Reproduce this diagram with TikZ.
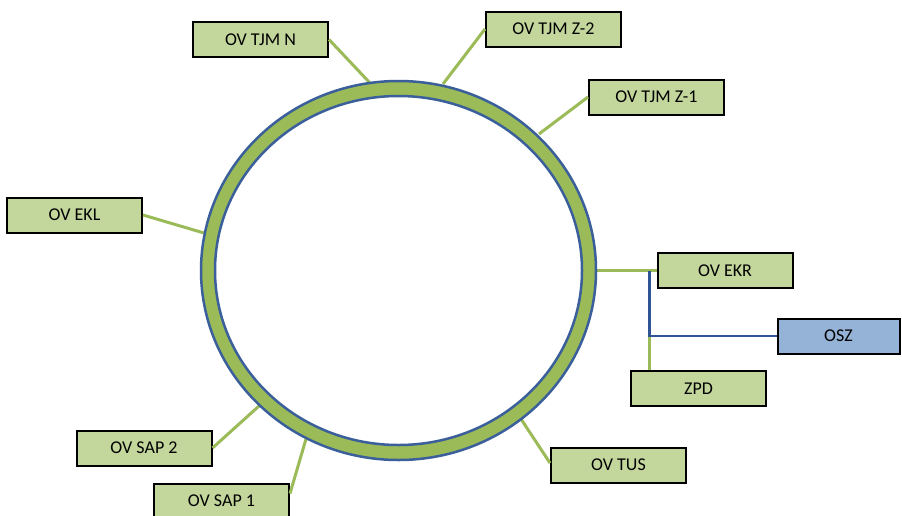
\documentclass[tikz,border=0pt]{standalone}
\usepackage{fontspec}
\setmainfont{Carlito}
\definecolor{ringgreen}{HTML}{9BBB59}
\definecolor{ringblue}{HTML}{3A5F9A}
\definecolor{boxgreen}{HTML}{C3D69B}
\definecolor{boxblue}{HTML}{95B3D7}
\definecolor{linkblue}{HTML}{2F5597}
\begin{document}
\begin{tikzpicture}[x=1pt,y=-1pt,
  box/.style={draw=black, line width=2pt, fill=boxgreen, minimum width=135pt, minimum height=35pt, inner sep=0pt, font=\fontsize{18}{21}\selectfont},
  bluebox/.style={box, fill=boxblue, minimum width=122pt},
  link/.style={draw=ringgreen, line width=3pt},
  bluelink/.style={draw=linkblue, line width=2.5pt}]
\useasboundingbox (0,0) rectangle (902,515);
\clip (0,0) rectangle (902,515);
\fill[white] (0,0) rectangle (902,515);

% boxes
\node[box] (tjmN)  at (260.5,39.5) {OV TJM N};
\node[box] (tjmZ2) at (553.5,29)   {OV TJM Z-2};
\node[box] (tjmZ1) at (656.5,97)   {OV TJM Z-1};
\node[box] (ekl)   at (74.5,215)   {OV EKL};
\node[box] (ekr)   at (725,270.5)  {OV EKR};
\node[bluebox] (osz) at (838.5,336) {OSZ};
\node[box] (zpd)   at (698.5,388.5) {ZPD};
\node[box] (sap2)  at (144,448)    {OV SAP 2};
\node[box] (sap1)  at (221.5,501)  {OV SAP 1};
\node[box] (tus)   at (618.5,465)  {OV TUS};

% ring attachment points
\coordinate (rN)    at (370,83);
\coordinate (rZ2)   at (443,84);
\coordinate (rZ1)   at (539,134);
\coordinate (rEKL)  at (204,233);
\coordinate (rEKR)  at (596,270.5);
\coordinate (rSAP2) at (259,406);
\coordinate (rSAP1) at (306,439);
\coordinate (rTUS)  at (521,419);

% connectors
\draw[link] (tjmN.east) -- (rN);
\draw[link] (tjmZ2.west) -- (rZ2);
\draw[link] (tjmZ1.west) -- (rZ1);
\draw[link] (ekl.east) -- (rEKL);
\draw[link] (rEKR) -- (ekr.west);
\draw[link] (sap2.east) -- (rSAP2);
\draw[link] ([yshift=-11pt]sap1.north east) -- (rSAP1);
\draw[link] ([yshift=2pt]tus.west) -- (rTUS);

\coordinate (j1) at ([xshift=-7pt]ekr.west);
\coordinate (j2) at (j1 |- osz.west);
\draw[link] (j2) -- (j2 |- zpd.north);
\draw[bluelink] (j1) -- (j2) -- (osz.west);

% ring
\fill[ringgreen, even odd rule] (398.5,270.5) ellipse [x radius=197.5, y radius=189.5]
  (398.5,270.5) ellipse [x radius=183.5, y radius=174.5];
\draw[ringblue, line width=2.5pt] (398.5,270.5) ellipse [x radius=197.5, y radius=189.5];
\draw[ringblue, line width=2.5pt] (398.5,270.5) ellipse [x radius=183.5, y radius=174.5];
\end{tikzpicture}
\end{document}
